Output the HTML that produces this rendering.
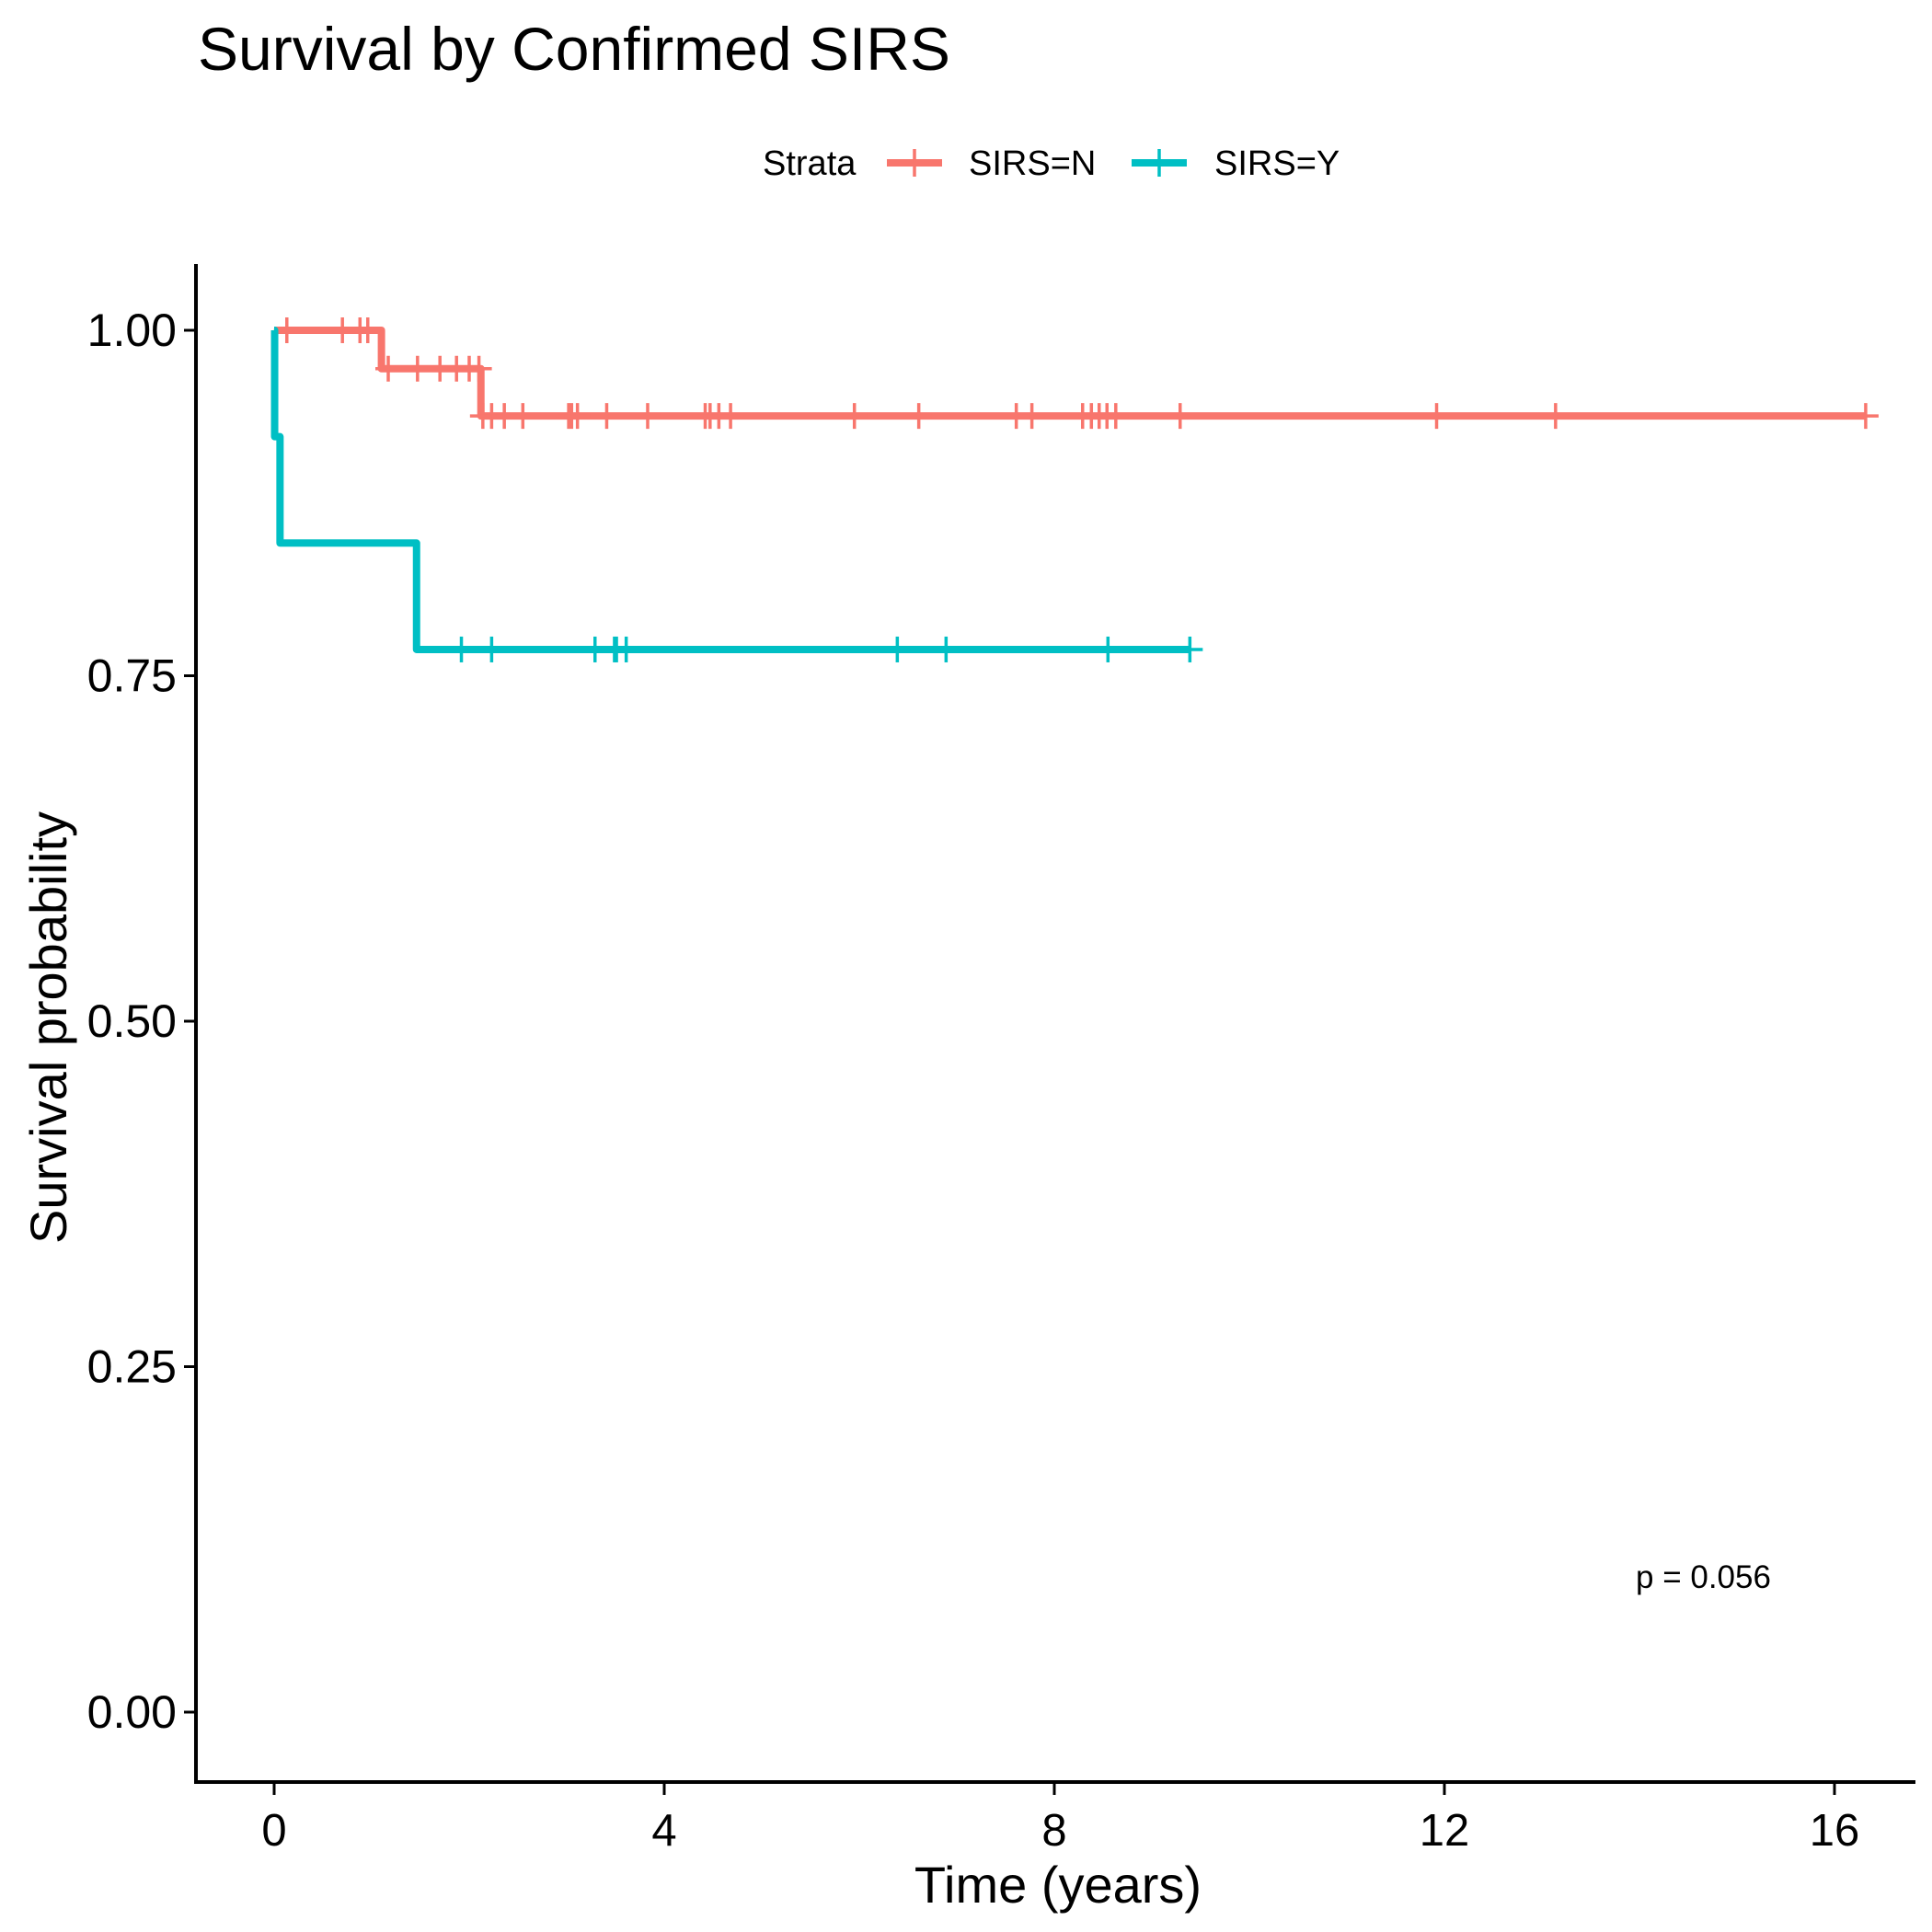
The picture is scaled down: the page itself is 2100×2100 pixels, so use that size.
<!DOCTYPE html>
<html><head><meta charset="utf-8"><style>
html,body{margin:0;padding:0;background:#fff;}
svg{display:block;font-family:"Liberation Sans",Arial,sans-serif;}
</style></head><body>
<svg id="chart" width="2100" height="2100" viewBox="0 0 2100 2100" xmlns="http://www.w3.org/2000/svg">
<text x="215" y="76" font-size="66" fill="#000">Survival by Confirmed SIRS</text>
<g>
<text x="829" y="190" font-size="38">Strata</text>
<g>
<line x1="964" y1="177" x2="1024" y2="177" stroke="#F8766D" stroke-width="8"/>
<line x1="994" y1="162" x2="994" y2="192" stroke="#F8766D" stroke-width="3.5"/>
<text x="1053" y="190" font-size="38">SIRS=N</text></g>
<g>
<line x1="1230" y1="177" x2="1290" y2="177" stroke="#00BFC4" stroke-width="8"/>
<line x1="1260" y1="162" x2="1260" y2="192" stroke="#00BFC4" stroke-width="3.5"/>
<text x="1320" y="190" font-size="38">SIRS=Y</text></g>
</g>
<g id="axes"></g>
<g id="series"></g>
<text x="1778" y="1726" font-size="35">p = 0.056</text>
<text x="1150" y="2068" font-size="56" text-anchor="middle">Time (years)</text>
<text transform="translate(72,1117) rotate(-90)" font-size="56" text-anchor="middle">Survival probability</text>
</svg>
<script>
const xTicks=[0,4,8,12,16];
const yTicks=[0,0.25,0.5,0.75,1];
const yTickLabels=["0.00","0.25","0.50","0.75","1.00"];
const nTimes=[0,1.10,2.12,16.32];
const nSurv=[1,0.9722,0.9380,0.9380];
const nCensor=[0.13,0.70,0.88,0.96,1.17,1.47,1.70,1.87,2.00,2.10,2.14,2.23,2.36,2.55,3.02,3.05,3.11,3.41,3.83,4.42,4.47,4.56,4.68,5.95,6.61,7.61,7.77,8.29,8.38,8.46,8.54,8.63,9.29,11.92,13.14,16.32];
const yTimes=[0,0.005,0.06,1.46,9.39];
const ySurv=[1,0.923,0.846,0.769,0.769];
const yCensor=[1.92,2.23,3.29,3.49,3.51,3.61,6.39,6.89,8.55,9.39];
const NS="http://www.w3.org/2000/svg";
const X=t=>298+106*t, Y=p=>1861-1502*p;
function mk(tag,attrs,parent){const e=document.createElementNS(NS,tag);for(const k in attrs)e.setAttribute(k,attrs[k]);parent.appendChild(e);return e;}
const ax=document.getElementById('axes'), se=document.getElementById('series');
let l=mk('line',{x1:213,y1:287,x2:213,y2:1939,stroke:'#000','stroke-width':4},ax);


l=mk('line',{x1:211,y1:1937,x2:2082,y2:1937,stroke:'#000','stroke-width':4},ax);


xTicks.forEach(v=>{mk('line',{x1:X(v),y1:1937,x2:X(v),y2:1951,stroke:'#000','stroke-width':3},ax);
const t=mk('text',{x:X(v),y:2006,'font-size':49,'text-anchor':'middle'},ax);t.textContent=v;

});
yTicks.forEach((v,i)=>{mk('line',{x1:200,y1:Y(v),x2:213,y2:Y(v),stroke:'#000','stroke-width':3},ax);
const t=mk('text',{x:192,y:Y(v)+17,'font-size':50,'text-anchor':'end'},ax);t.textContent=yTickLabels[i];

});
function stepVal(times,surv,t){let s=surv[0];for(let i=0;i<times.length;i++)if(times[i]<=t)s=surv[i];return s;}
function draw(times,surv,cens,color,name){
let d='M'+X(times[0])+','+Y(surv[0]);
for(let i=1;i<times.length;i++){d+=' H'+X(times[i])+' V'+Y(surv[i]);}
const p=mk('path',{d:d,fill:'none',stroke:color,'stroke-width':8,'stroke-linejoin':'round'},se);


cens.forEach(c=>{const s=stepVal(times,surv,c);const g=mk('g',{},se);


mk('line',{x1:X(c)-14,y1:Y(s),x2:X(c)+14,y2:Y(s),stroke:color,'stroke-width':3.5},g);
mk('line',{x1:X(c),y1:Y(s)-14,x2:X(c),y2:Y(s)+14,stroke:color,'stroke-width':3.5},g);});
}
draw(nTimes,nSurv,nCensor,'#F8766D','sirs-n');
draw(yTimes,ySurv,yCensor,'#00BFC4','sirs-y');
</script>
</body></html>
